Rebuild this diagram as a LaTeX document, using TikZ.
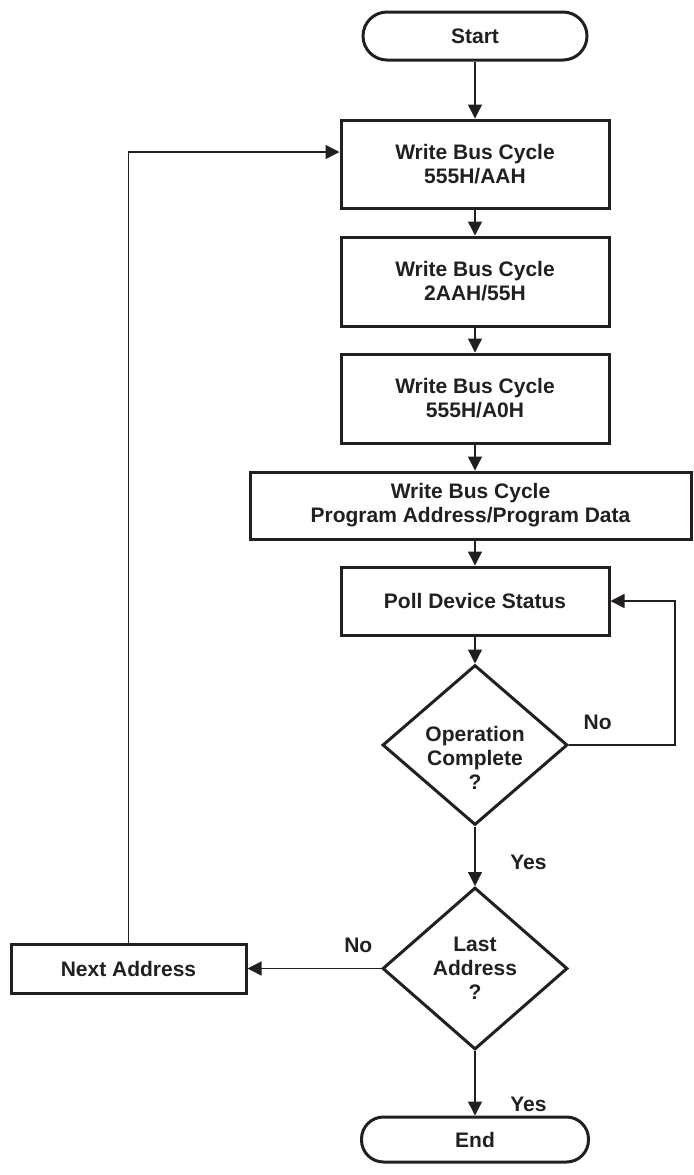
\documentclass[tikz,border=0pt]{standalone}
\usepackage{fontspec}
\setmainfont{Liberation Sans}
\usetikzlibrary{shapes.geometric,arrows.meta}
\definecolor{ink}{HTML}{231F20}

\begin{document}
\begin{tikzpicture}[x=0.5pt,y=-0.5pt,
		every node/.style={font=\bfseries\fontsize{10.5}{12}\selectfont,text=ink},
		box/.style={draw=ink,line width=1.5pt,align=center,minimum width=134pt},
		pill/.style={draw=ink,line width=1.5pt,rounded corners=12pt,minimum width=112pt,minimum height=24pt},
		decide/.style={draw=ink,line width=1.5pt,diamond,aspect=1.15,inner sep=0pt,align=center,minimum width=92.5pt,minimum height=81pt},
		flow/.style={draw=ink,line width=0.65pt,-{Triangle[length=7pt,width=7pt]}}]
		\useasboundingbox (0,0) rectangle (693,1175);
		% main column
		\node[pill] (start) at (475,36) {Start};
		\node[box,minimum height=44pt] (cyc1) at (475,164) {Write Bus Cycle\\555H/AAH};
		\node[box,minimum height=44.5pt] (cyc2) at (475,281.5) {Write Bus Cycle\\2AAH/55H};
		\node[box,minimum height=44.5pt] (cyc3) at (475,398.5) {Write Bus Cycle\\555H/A0H};
		\node[box,minimum width=220.5pt,minimum height=33.5pt] (cyc4) at (470.5,505.5) {Write Bus Cycle\\Program Address/Program Data};
		\node[box,minimum height=34pt] (poll) at (475,601) {Poll Device Status};
		\node[decide,minimum height=80pt,label={[align=center,yshift=-6.5pt]center:{Operation\\Complete\\?}}] (opdone) at (475,745) {};
		\node[decide] (lastaddr) at (475,968.5) {Last\\Address\\?};
		\node[pill,minimum width=113.5pt,minimum height=22.5pt,rounded corners=11pt] (end) at (475,1139.5) {End};
		% side box
		\node[box,minimum width=117.5pt,minimum height=24.5pt] (next) at (128.5,968.5) {Next Address};

		\draw[flow] (start) -- (cyc1);
		\draw[flow] (cyc1) -- (cyc2);
		\draw[flow] (cyc2) -- (cyc3);
		\draw[flow] (cyc3) -- (cyc3 |- cyc4.north);
		\draw[flow] (poll |- cyc4.south) -- (poll);
		\draw[flow] (poll) -- (opdone);
		\draw[flow] (opdone.east) -- node[above=4pt,pos=0.27] {No} ++(106,0) |- (poll.east);
		\draw[flow] (opdone) -- node[right=14pt,pos=0.61] {Yes} (lastaddr);
		\draw[flow] (lastaddr) -- node[above=4pt,pos=0.17] {No} (next);
		\draw[flow] (lastaddr) -- node[right=14pt,pos=0.82] {Yes} (end);
		\draw[flow] (next) |- ([yshift=6pt]cyc1.west);
	\end{tikzpicture}
\end{document}
